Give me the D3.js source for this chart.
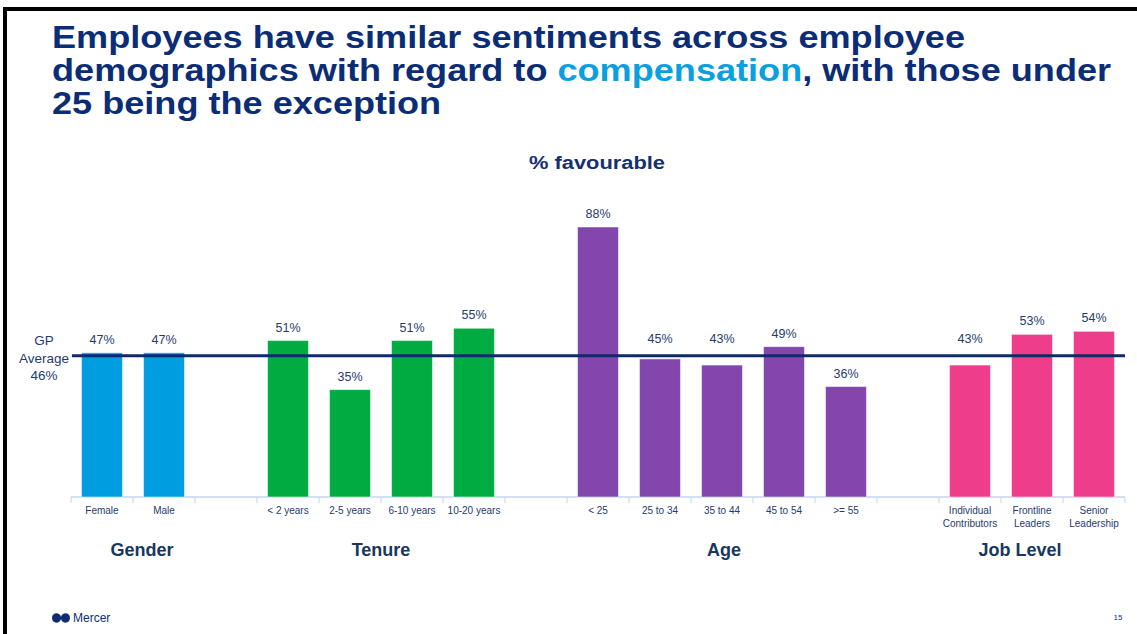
<!DOCTYPE html>
<html><head><meta charset="utf-8">
<script src="https://cdn.jsdelivr.net/npm/d3@7"></script>
<style>
html,body{margin:0;padding:0;background:#fff;}
svg{display:block;font-family:"Liberation Sans",Arial,sans-serif;}
</style></head>
<body>
<svg id="chart" width="1137" height="634"></svg>
<script>
// ---- data ----
const groups = ["Gender", "Tenure", "Age", "Job Level"];
const categories = [
  {group:"Gender", label:["Female"]},
  {group:"Gender", label:["Male"]},
  {group:null, label:[]},
  {group:"Tenure", label:["< 2 years"]},
  {group:"Tenure", label:["2-5 years"]},
  {group:"Tenure", label:["6-10 years"]},
  {group:"Tenure", label:["10-20 years"]},
  {group:null, label:[]},
  {group:"Age", label:["< 25"]},
  {group:"Age", label:["25 to 34"]},
  {group:"Age", label:["35 to 44"]},
  {group:"Age", label:["45 to 54"]},
  {group:"Age", label:[">= 55"]},
  {group:null, label:[]},
  {group:"Job Level", label:["Individual","Contributors"]},
  {group:"Job Level", label:["Frontline","Leaders"]},
  {group:"Job Level", label:["Senior","Leadership"]}
];
const values = [47, 47, null, 51, 35, 51, 55, null, 88, 45, 43, 49, 36, null, 43, 53, 54];
const gpAverage = 46;
const groupColors = {"Gender":"#009de0","Tenure":"#00ac41","Age":"#8246ad","Job Level":"#ee3d8a"};
const groupLabelShift = {"Gender":9,"Tenure":0,"Age":2,"Job Level":-12};

// ---- drawing ----
const svg = d3.select("#chart");
const W = 1137, H = 634;

// frame
svg.append("rect").attr("x",3).attr("y",7).attr("width",W).attr("height",4).attr("fill","#000");
svg.append("rect").attr("x",3).attr("y",7).attr("width",4).attr("height",H).attr("fill","#000");

// title
const title = svg.append("text").attr("transform","translate(52,0) scale(1.165,1)").attr("font-weight","bold")
  .attr("font-size",31).attr("fill","#0b2d76");
title.append("tspan").attr("x",0).attr("y",48).text("Employees have similar sentiments across employee");
const l2 = title.append("tspan").attr("x",0).attr("y",81);
l2.append("tspan").text("demographics with regard to ");
l2.append("tspan").attr("fill","#0aa0e0").text("compensation");
l2.append("tspan").text(", with those under");
title.append("tspan").attr("x",0).attr("y",114).text("25 being the exception");

svg.append("text").attr("transform","translate(597,169) scale(1.15,1)").attr("text-anchor","middle")
  .attr("font-weight","bold").attr("font-size",19).attr("fill","#14306e").text("% favourable");

// scales
const x = d3.scaleBand().domain(d3.range(categories.length)).range([71,1125]).paddingInner(0.34).paddingOuter(0.17);
const y = d3.scaleLinear().domain([0,88]).range([497,227]);

// axis
const axisG = svg.append("g").attr("transform","translate(0,497)");
axisG.append("line").attr("x1",71).attr("x2",1125).attr("stroke","#c5d5ee").attr("stroke-width",1.5);
const tickXs = d3.range(categories.length+1).map(i => 71 + i*(1054/categories.length));
axisG.selectAll("line.tick").data(tickXs).join("line").attr("class","tick")
  .attr("x1",d=>d).attr("x2",d=>d).attr("y1",0).attr("y2",6).attr("stroke","#c5d5ee").attr("stroke-width",1);

// bars
const barData = categories.map((c,i)=>({...c, i, v: values[i]})).filter(d=>d.v!=null);
svg.selectAll("rect.bar").data(barData).join("rect").attr("class","bar")
  .attr("x",d=>x(d.i)).attr("width",x.bandwidth())
  .attr("y",d=>y(d.v)).attr("height",d=>y(0)-y(d.v))
  .attr("fill",d=>groupColors[d.group]).attr("stroke","#ffffff").attr("stroke-opacity",0.5).attr("stroke-width",1);

// value labels (lifted above the average line where they would collide)
const avgY = y(gpAverage);
svg.selectAll("text.val").data(barData).join("text").attr("class","val")
  .attr("x",d=>x(d.i)+x.bandwidth()/2)
  .attr("y",d=>{ const b = y(d.v)-9; return (b > avgY-7 && b < avgY+14) ? avgY-13 : b; })
  .attr("text-anchor","middle").attr("font-size",12.5).attr("fill","#263a6e")
  .text(d=>d.v+"%");

// tick labels
const tl = svg.selectAll("text.tl").data(barData).join("text").attr("class","tl")
  .attr("text-anchor","middle").attr("font-size",10).attr("fill","#263a6e");
tl.each(function(d){
  const t = d3.select(this);
  d.label.forEach((s,k)=>{
    t.append("tspan").attr("x",x(d.i)+x.bandwidth()/2).attr("y",514+k*13).text(s);
  });
});

// group labels
groups.forEach(g=>{
  const idx = barData.filter(d=>d.group===g).map(d=>d.i);
  const cx = (x(d3.min(idx)) + x(d3.max(idx)) + x.bandwidth())/2 + groupLabelShift[g];
  svg.append("text").attr("x",cx).attr("y",556).attr("text-anchor","middle")
    .attr("font-weight","bold").attr("font-size",18).attr("fill","#17375e").text(g);
});

// average line
svg.append("line").attr("x1",72).attr("x2",1125).attr("y1",avgY).attr("y2",avgY)
  .attr("stroke","#0d2a6b").attr("stroke-width",3);
const avgT = svg.append("text").attr("text-anchor","middle").attr("font-size",13.5).attr("fill","#263a6e");
["GP","Average",gpAverage+"%"].forEach((s,k)=>{
  avgT.append("tspan").attr("x",44).attr("y",345+k*17.5).text(s);
});

// footer logo
const logo = svg.append("g").attr("transform","translate(52,618)");
logo.append("path").attr("d","M0,0 C0,-6 8,-6 9,-1 C10,-6 18,-6 18,0 C18,6 10,6 9,1 C8,6 0,6 0,0 Z").attr("fill","#0b2d76");
svg.append("text").attr("x",73).attr("y",622).attr("font-size",12).attr("fill","#0b2d76").text("Mercer");
svg.append("text").attr("x",1118).attr("y",620).attr("text-anchor","middle").attr("font-size",8).attr("fill","#0b2d76").text("15");
</script>
</body></html>
